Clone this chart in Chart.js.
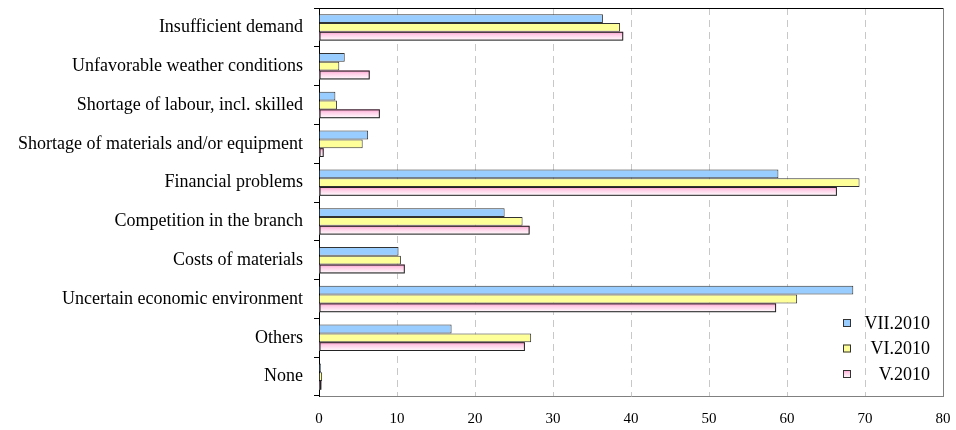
<!DOCTYPE html>
<html>
<head>
<meta charset="utf-8">
<script src="https://cdn.jsdelivr.net/npm/chart.js@4.4.0/dist/chart.umd.min.js"></script>
<style>
  body { margin: 0; background: #fff; }
  #wrap { width: 956px; height: 430px; }
</style>
</head>
<body>
<div id="wrap"><canvas id="grafico" width="956" height="430"></canvas></div>
<script>
const categorias = [
    'Insufficient demand',
    'Unfavorable weather conditions',
    'Shortage of labour, incl. skilled',
    'Shortage of materials and/or equipment',
    'Financial problems',
    'Competition in the branch',
    'Costs of materials',
    'Uncertain economic environment',
    'Others',
    'None'
];
const series = ['VII.2010', 'VI.2010', 'V.2010'];
const julio = [36.4, 3.3, 2.1, 6.3, 58.9, 23.8, 10.2, 68.5, 17.0, 0.25];
const junio = [38.6, 2.6, 2.3, 5.6, 69.3, 26.1, 10.5, 61.3, 27.2, 0.4];
const mayo  = [39.0, 6.5, 7.8, 0.6, 66.4, 27.0, 11.0, 58.6, 26.4, 0.3];
const ejeX = [0, 10, 20, 30, 40, 50, 60, 70, 80];

const fuente = "'Liberation Serif', 'Times New Roman', serif";

function rosa(ctx, top, h) {
    const g = ctx.createLinearGradient(0, top, 0, top + h);
    g.addColorStop(0, '#ff99cc');
    g.addColorStop(0.35, '#ffcde6');
    g.addColorStop(1, '#ffffff');
    return g;
}

// repinta las barras de V.2010 con degradado
const degradado = {
    id: 'degradado',
    afterDatasetsDraw(chart) {
        const ctx = chart.ctx;
        const meta = chart.getDatasetMeta(2);
        ctx.save();
        meta.data.forEach(bar => {
            const top = bar.y - bar.height / 2;
            const left = Math.min(bar.base, bar.x);
            const w = Math.abs(bar.x - bar.base);
            ctx.fillStyle = rosa(ctx, top, bar.height);
            ctx.fillRect(left, top, w, bar.height);
            ctx.strokeStyle = '#222';
            ctx.lineWidth = 1;
            ctx.strokeRect(left + 0.5, top + 0.5, Math.max(w - 1, 0), bar.height - 1);
        });
        ctx.restore();
    }
};

// marco superior y derecho + leyenda dentro del area
const marco = {
    id: 'marco',
    afterDraw(chart) {
        const { ctx, chartArea: a } = chart;
        ctx.save();
        ctx.lineWidth = 1;
        ctx.strokeStyle = '#000';
        ctx.beginPath();
        ctx.moveTo(a.left, a.top + 0.5);
        ctx.lineTo(a.right, a.top + 0.5);
        ctx.stroke();
        ctx.strokeStyle = '#808080';
        ctx.beginPath();
        ctx.moveTo(a.right + 0.5, a.top);
        ctx.lineTo(a.right + 0.5, a.bottom);
        ctx.stroke();

        ctx.font = '18px ' + fuente;
        ctx.textAlign = 'right';
        ctx.textBaseline = 'middle';
        chart.data.datasets.forEach((ds, i) => {
            const y = 323 + i * 25.5;
            ctx.fillStyle = i === 2 ? rosa(ctx, y - 4, 8) : ds.backgroundColor;
            ctx.fillRect(843, y - 4, 8, 8);
            ctx.strokeStyle = '#333';
            ctx.strokeRect(843.5, y - 3.5, 7, 7);
            ctx.fillStyle = '#000';
            ctx.fillText(ds.label, 930, y + 1);
        });
        ctx.restore();
    }
};

new Chart(document.getElementById('grafico'), {
    type: 'bar',
    data: {
        labels: categorias,
        datasets: [
            { label: series[0], data: julio, backgroundColor: '#99ccff', borderColor: '#333', borderWidth: 1 },
            { label: series[1], data: junio, backgroundColor: '#ffff99', borderColor: '#333', borderWidth: 1 },
            { label: series[2], data: mayo, backgroundColor: '#ffcde6', borderColor: '#222', borderWidth: 1 }
        ]
    },
    options: {
        indexAxis: 'y',
        responsive: false,
        animation: false,
        layout: { padding: { top: 8, right: 13, left: 0, bottom: 0 } },
        datasets: { bar: { categoryPercentage: 0.68, barPercentage: 1.0 } },
        plugins: { legend: { display: false }, tooltip: { enabled: false } },
        scales: {
            x: {
                min: 0, max: 80,
                afterFit: s => { s.height = 34; s.paddingLeft = 0; s.paddingRight = 0; },
                afterBuildTicks: s => { s.ticks = ejeX.map(v => ({ value: v })); },
                ticks: { color: '#000', padding: 14, font: { family: fuente, size: 15 } },
                grid: {
                    drawTicks: false,
                    color: c => (c.tick && (c.tick.value === 0 || c.tick.value === 80)) ? 'rgba(0,0,0,0)' : '#c8c8c8'
                },
                border: { color: '#808080', dash: [7, 5] }
            },
            y: {
                afterFit: s => { s.width = 319; s.paddingTop = 0; s.paddingBottom = 0; },
                ticks: { color: '#000', padding: 11, font: { family: fuente, size: 18 } },
                grid: { offset: true, drawOnChartArea: false, drawTicks: true, tickLength: 5, color: '#000' },
                border: { color: '#000' }
            }
        }
    },
    plugins: [degradado, marco]
});
</script>
</body>
</html>
